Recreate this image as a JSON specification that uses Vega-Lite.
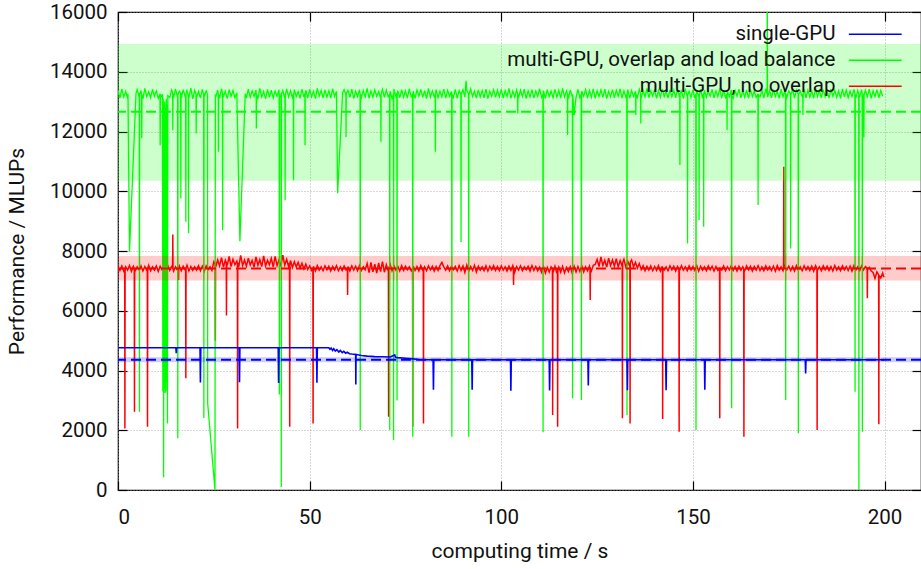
{
"$schema":"https://vega.github.io/schema/vega-lite/v6.json",
"width":803,"height":478,
"autosize":{"type":"none"},
"padding":{"left":118,"top":12,"right":0,"bottom":79},
"background":"white",
"config":{
 "font":"Roboto",
 "view":{"stroke":"black","strokeWidth":1.2},
 "axis":{"domain":false,"gridColor":"#999999","gridDash":[1,2],"gridWidth":0.8,"tickColor":"black","tickSize":-9,"tickWidth":1.2,"labelFontSize":20.5,"labelColor":"#111111","titleFontSize":21,"titleFontWeight":"normal","titleColor":"#111111","labelFont":"Roboto","titleFont":"Roboto"}
},
"datasets":{
"stats":[
 {"series":"single-GPU","mean":4360,"lo":4280,"hi":4440},
 {"series":"multi-GPU, overlap and load balance","mean":12657,"lo":10350,"hi":14930},
 {"series":"multi-GPU, no overlap","mean":7417,"lo":7016,"hi":7832}
],
"single":[
 {"t":0,"v":4760},{"t":15.1,"v":4760},{"t":15.2,"v":4580},{"t":15.3,"v":4760},
 {"t":21.4,"v":4760},{"t":21.5,"v":3600},{"t":21.6,"v":4760},
 {"t":31.6,"v":4760},{"t":31.7,"v":3610},{"t":31.8,"v":4760},
 {"t":41.8,"v":4760},{"t":41.9,"v":3580},{"t":42,"v":4760},
 {"t":51.8,"v":4760},{"t":51.9,"v":3590},{"t":52,"v":4760},
 {"t":55,"v":4760},{"t":55.3,"v":4710},{"t":55.6,"v":4750},{"t":56,"v":4670},{"t":56.3,"v":4730},{"t":56.7,"v":4650},{"t":57.1,"v":4700},{"t":57.6,"v":4620},{"t":58,"v":4670},{"t":58.5,"v":4600},{"t":58.9,"v":4640},{"t":59.4,"v":4580},{"t":59.8,"v":4610},{"t":60.4,"v":4560},{"t":61,"v":4550},{"t":62,"v":4540},{"t":62.05,"v":3530},{"t":62.1,"v":4535},
 {"t":63.5,"v":4500},{"t":65,"v":4480},{"t":67,"v":4465},{"t":69,"v":4460},{"t":71,"v":4450},{"t":72.2,"v":4520},{"t":72.4,"v":4440},{"t":73,"v":4430},{"t":75,"v":4410},{"t":77,"v":4390},{"t":78.5,"v":4370},{"t":80,"v":4360},
 {"t":82.2,"v":4360},{"t":82.3,"v":3360},{"t":82.4,"v":4360},
 {"t":92.3,"v":4360},{"t":92.4,"v":3360},{"t":92.5,"v":4360},
 {"t":102.4,"v":4360},{"t":102.5,"v":3320},{"t":102.6,"v":4360},
 {"t":112.5,"v":4360},{"t":112.6,"v":3330},{"t":112.7,"v":4360},
 {"t":122.6,"v":4360},{"t":122.7,"v":3500},{"t":122.8,"v":4360},
 {"t":132.8,"v":4360},{"t":132.9,"v":3340},{"t":133,"v":4360},
 {"t":142.9,"v":4360},{"t":143,"v":3340},{"t":143.1,"v":4360},
 {"t":153,"v":4360},{"t":153.1,"v":3360},{"t":153.2,"v":4360},
 {"t":179.3,"v":4360},{"t":179.4,"v":3900},{"t":179.5,"v":4360},
 {"t":200,"v":4360}
],
"multi":[
 {"t":0,"v":13380},{"t":0.5,"v":13120},{"t":1,"v":13420},{"t":1.5,"v":13160},{"t":2,"v":13350},{"t":2.5,"v":13100},{"t":2.6,"v":13260},{"t":3,"v":7975},{"t":4.7,"v":13280},
 {"t":5,"v":13400},{"t":5.5,"v":13150},{"t":5.55,"v":13300},{"t":5.6,"v":2620},{"t":5.65,"v":13250},{"t":6,"v":13370},{"t":6.15,"v":13220},{"t":6.2,"v":11770},{"t":6.25,"v":13230},{"t":6.5,"v":13090},{"t":7,"v":13440},{"t":7.5,"v":13170},{"t":8,"v":13330},{"t":8.5,"v":13130},{"t":9,"v":13410},{"t":9.5,"v":13180},
 {"t":10,"v":13360},{"t":10.5,"v":13110},{"t":10.95,"v":13250},{"t":11,"v":11540},{"t":11.05,"v":13230},{"t":11.5,"v":13150},{"t":11.6,"v":13250},{"t":11.7,"v":3300},{"t":11.8,"v":13100},{"t":11.9,"v":430},{"t":12,"v":12900},{"t":12.1,"v":3400},{"t":12.2,"v":13000},{"t":12.3,"v":3250},{"t":12.4,"v":12800},{"t":12.5,"v":3300},{"t":12.6,"v":13100},{"t":12.7,"v":3600},{"t":12.8,"v":12900},{"t":12.9,"v":2230},{"t":13,"v":13200},{"t":13.5,"v":13140},{"t":14,"v":13390},{"t":14.25,"v":13300},{"t":14.3,"v":12040},{"t":14.35,"v":13280},{"t":14.5,"v":13120},
 {"t":15,"v":13430},{"t":15.5,"v":13160},{"t":15.55,"v":13260},{"t":15.6,"v":1730},{"t":15.65,"v":13240},{"t":16,"v":13350},{"t":16.35,"v":13280},{"t":16.4,"v":9760},{"t":16.45,"v":13300},{"t":16.5,"v":13100},{"t":17,"v":13400},{"t":17.5,"v":13180},{"t":17.65,"v":13250},{"t":17.7,"v":8980},{"t":17.75,"v":13270},{"t":18,"v":13370},{"t":18.35,"v":13200},{"t":18.4,"v":8590},{"t":18.45,"v":13240},{"t":18.5,"v":13130},{"t":19,"v":13450},{"t":19.5,"v":13090},
 {"t":20,"v":13380},{"t":20.35,"v":13250},{"t":20.4,"v":11930},{"t":20.45,"v":13220},{"t":20.5,"v":13150},{"t":21,"v":13340},{"t":21.5,"v":13120},{"t":22,"v":13410},{"t":22.35,"v":13240},{"t":22.4,"v":2410},{"t":22.45,"v":13280},{"t":22.5,"v":13170},{"t":23,"v":13360},{"t":23.35,"v":13240},{"t":23.4,"v":2900},{"t":25.3,"v":0},{"t":25.4,"v":13250},{"t":25.5,"v":13140},{"t":26,"v":13390},{"t":26.15,"v":13260},{"t":26.2,"v":11320},{"t":26.25,"v":13240},{"t":26.5,"v":13110},{"t":27,"v":13430},{"t":27.25,"v":13300},{"t":27.3,"v":8700},{"t":27.35,"v":13270},{"t":27.5,"v":13160},{"t":28,"v":13350},{"t":28.5,"v":13100},{"t":29,"v":13400},{"t":29.5,"v":13180},
 {"t":30,"v":13370},{"t":30.5,"v":13130},{"t":31,"v":13300},{"t":31.8,"v":8330},{"t":33.2,"v":13270},{"t":33.5,"v":13120},{"t":34,"v":13420},{"t":34.5,"v":13150},
 {"t":35,"v":13360},{"t":35.5,"v":13170},{"t":36,"v":13390},{"t":36.05,"v":13260},{"t":36.1,"v":12100},{"t":36.15,"v":13230},{"t":36.5,"v":13110},{"t":37,"v":13440},{"t":37.5,"v":13160},{"t":38,"v":13340},{"t":38.5,"v":13090},{"t":39,"v":13410},{"t":39.5,"v":13140},
 {"t":40,"v":13380},{"t":40.5,"v":13120},{"t":41,"v":13350},{"t":41.5,"v":13180},{"t":42,"v":13400},{"t":42.05,"v":13250},{"t":42.1,"v":3200},{"t":42.15,"v":13220},{"t":42.5,"v":13150},{"t":42.55,"v":13280},{"t":42.6,"v":100},{"t":42.65,"v":13240},{"t":43,"v":13370},{"t":43.5,"v":13100},{"t":43.55,"v":13250},{"t":43.6,"v":9700},{"t":43.65,"v":13210},{"t":44,"v":13430},{"t":44.5,"v":13160},
 {"t":45,"v":13360},{"t":45.5,"v":13130},{"t":45.75,"v":13260},{"t":45.8,"v":10370},{"t":45.85,"v":13240},{"t":46,"v":13400},{"t":46.5,"v":13170},{"t":47,"v":13340},{"t":47.5,"v":13110},{"t":48,"v":13420},{"t":48.5,"v":13150},{"t":48.75,"v":13270},{"t":48.8,"v":11540},{"t":48.85,"v":13250},{"t":49,"v":13380},{"t":49.5,"v":13120},
 {"t":50,"v":13410},{"t":50.5,"v":13160},{"t":51,"v":13350},{"t":51.5,"v":13100},{"t":52,"v":13440},{"t":52.5,"v":13180},{"t":53,"v":13370},{"t":53.5,"v":13130},{"t":54,"v":13390},{"t":54.5,"v":13150},
 {"t":55,"v":13360},{"t":55.5,"v":13120},{"t":56,"v":13430},{"t":56.5,"v":13170},{"t":57,"v":13350},{"t":57.3,"v":9930},{"t":58.6,"v":13290},{"t":59,"v":13400},{"t":59.45,"v":13240},{"t":59.5,"v":11820},{"t":59.55,"v":13260},
 {"t":60,"v":13380},{"t":60.5,"v":13140},{"t":61,"v":13420},{"t":61.5,"v":13100},{"t":62,"v":13350},{"t":62.5,"v":13170},{"t":63,"v":13400},{"t":63.15,"v":13270},{"t":63.2,"v":2010},{"t":63.25,"v":13240},{"t":63.5,"v":13130},{"t":64,"v":13370},{"t":64.5,"v":13160},
 {"t":65,"v":13440},{"t":65.5,"v":13110},{"t":66,"v":13360},{"t":66.5,"v":13150},{"t":67,"v":13390},{"t":67.5,"v":13180},{"t":68,"v":13340},{"t":68.5,"v":13120},{"t":68.55,"v":13230},{"t":68.6,"v":11660},{"t":68.65,"v":13250},{"t":69,"v":13410},{"t":69.5,"v":13140},
 {"t":70,"v":13380},{"t":70.5,"v":13160},{"t":70.85,"v":13240},{"t":70.9,"v":2010},{"t":70.95,"v":13200},{"t":71,"v":13350},{"t":71.5,"v":13100},{"t":71.85,"v":13260},{"t":71.9,"v":1670},{"t":71.95,"v":13230},{"t":72,"v":13420},{"t":72.5,"v":13170},{"t":72.75,"v":13280},{"t":72.8,"v":3000},{"t":72.85,"v":13240},{"t":73,"v":13370},{"t":73.5,"v":13130},{"t":74,"v":13400},{"t":74.5,"v":13150},
 {"t":75,"v":13360},{"t":75.5,"v":13120},{"t":76,"v":13430},{"t":76.5,"v":13160},{"t":76.85,"v":13240},{"t":76.9,"v":1780},{"t":76.95,"v":13220},{"t":77,"v":13350},{"t":77.5,"v":13110},{"t":78,"v":13390},{"t":78.5,"v":13180},{"t":79,"v":13410},{"t":79.5,"v":13140},
 {"t":80,"v":13370},{"t":80.5,"v":13100},{"t":81,"v":13440},{"t":81.5,"v":13150},{"t":82,"v":13360},{"t":82.5,"v":13170},{"t":82.75,"v":13250},{"t":82.8,"v":11320},{"t":82.85,"v":13270},{"t":83,"v":13400},{"t":83.5,"v":13130},{"t":84,"v":13350},{"t":84.5,"v":13160},
 {"t":85,"v":13420},{"t":85.5,"v":13120},{"t":86,"v":13380},{"t":86.5,"v":13180},{"t":87,"v":13340},{"t":87.05,"v":13230},{"t":87.1,"v":1780},{"t":87.15,"v":13260},{"t":87.5,"v":13140},{"t":88,"v":13410},{"t":88.5,"v":13110},{"t":89,"v":13370},{"t":89.45,"v":13250},{"t":89.5,"v":8300},{"t":89.55,"v":13240},
 {"t":90,"v":13400},{"t":90.5,"v":13150},{"t":90.8,"v":13700},{"t":91,"v":13360},{"t":91.45,"v":13260},{"t":91.5,"v":1780},{"t":91.55,"v":13220},{"t":92,"v":13430},{"t":92.5,"v":13170},{"t":93,"v":13350},{"t":93.5,"v":13120},{"t":94,"v":13390},{"t":94.5,"v":13160},
 {"t":95,"v":13370},{"t":95.5,"v":13130},{"t":96,"v":13420},{"t":96.5,"v":13100},{"t":97,"v":13350},{"t":97.5,"v":13180},{"t":98,"v":13400},{"t":98.5,"v":13140},{"t":99,"v":13380},{"t":99.5,"v":13160},
 {"t":100,"v":13410},{"t":100.5,"v":13120},{"t":101,"v":13360},{"t":101.5,"v":13170},{"t":102,"v":13440},{"t":102.5,"v":13110},{"t":103,"v":13350},{"t":103.5,"v":13150},{"t":104,"v":13390},{"t":104.25,"v":13270},{"t":104.3,"v":12600},{"t":104.35,"v":13240},{"t":104.5,"v":13130},
 {"t":105,"v":13380},{"t":105.5,"v":13170},{"t":106,"v":13420},{"t":106.5,"v":13100},{"t":107,"v":13360},{"t":107.5,"v":13160},{"t":108,"v":13400},{"t":108.5,"v":13120},{"t":109,"v":13350},{"t":109.5,"v":13180},
 {"t":110,"v":13430},{"t":110.5,"v":13140},{"t":110.85,"v":13250},{"t":110.9,"v":1930},{"t":110.95,"v":13220},{"t":111,"v":13370},{"t":111.5,"v":13110},{"t":112,"v":13400},{"t":112.5,"v":13170},{"t":113,"v":13350},{"t":113.5,"v":13130},{"t":114,"v":13410},{"t":114.5,"v":13150},
 {"t":115,"v":13380},{"t":115.5,"v":13120},{"t":116,"v":13440},{"t":116.5,"v":13160},{"t":117,"v":13360},{"t":117.25,"v":13260},{"t":117.3,"v":11880},{"t":117.35,"v":13240},{"t":117.5,"v":13100},{"t":118,"v":13390},{"t":118.5,"v":13170},{"t":118.55,"v":13250},{"t":118.6,"v":3070},{"t":118.65,"v":13230},{"t":119,"v":12550},{"t":119.5,"v":13140},
 {"t":120,"v":13410},{"t":120.5,"v":13130},{"t":120.85,"v":13250},{"t":120.9,"v":3010},{"t":120.95,"v":13270},{"t":121,"v":13350},{"t":121.5,"v":13180},{"t":122,"v":13400},{"t":122.5,"v":13120},{"t":123,"v":13370},{"t":123.5,"v":13150},{"t":124,"v":13430},{"t":124.5,"v":13110},
 {"t":125,"v":13360},{"t":125.5,"v":13170},{"t":126,"v":13390},{"t":126.5,"v":13140},{"t":127,"v":13420},{"t":127.5,"v":13100},{"t":128,"v":13350},{"t":128.5,"v":13160},{"t":129,"v":13400},{"t":129.5,"v":13130},
 {"t":130,"v":13380},{"t":130.5,"v":13180},{"t":131,"v":13430},{"t":131.5,"v":13120},{"t":132,"v":13360},{"t":132.5,"v":13150},{"t":132.75,"v":13240},{"t":132.8,"v":2510},{"t":132.85,"v":13260},{"t":133,"v":13400},{"t":133.5,"v":13110},{"t":134,"v":13370},{"t":134.5,"v":13170},
 {"t":135,"v":13350},{"t":135.05,"v":13230},{"t":135.1,"v":12550},{"t":135.15,"v":13260},{"t":135.5,"v":13140},{"t":136,"v":13410},{"t":136.35,"v":13270},{"t":136.4,"v":12270},{"t":136.45,"v":13250},{"t":136.5,"v":13120},{"t":137,"v":13380},{"t":137.5,"v":13160},{"t":138,"v":13440},{"t":138.5,"v":13130},{"t":139,"v":13360},{"t":139.5,"v":13180},
 {"t":140,"v":13400},{"t":140.5,"v":13110},{"t":141,"v":13370},{"t":141.5,"v":13150},{"t":142,"v":13420},{"t":142.5,"v":13170},{"t":143,"v":13350},{"t":143.5,"v":13120},{"t":144,"v":13390},{"t":144.5,"v":13160},
 {"t":145,"v":13380},{"t":145.5,"v":13130},{"t":146,"v":13410},{"t":146.5,"v":13150},{"t":146.55,"v":13240},{"t":146.6,"v":10880},{"t":146.65,"v":13270},{"t":147,"v":13360},{"t":147.5,"v":13100},{"t":148,"v":13430},{"t":148.5,"v":13170},{"t":148.55,"v":13260},{"t":148.6,"v":8250},{"t":148.65,"v":13230},{"t":149,"v":13350},{"t":149.5,"v":13140},
 {"t":150,"v":13400},{"t":150.5,"v":13120},{"t":150.75,"v":13250},{"t":150.8,"v":2010},{"t":150.85,"v":13240},{"t":151,"v":13370},{"t":151.5,"v":13160},{"t":151.55,"v":13260},{"t":151.6,"v":9040},{"t":151.65,"v":13230},{"t":152,"v":13420},{"t":152.5,"v":13110},{"t":152.75,"v":13270},{"t":152.8,"v":8810},{"t":152.85,"v":13250},{"t":153,"v":13380},{"t":153.5,"v":13150},{"t":154,"v":13350},{"t":154.5,"v":13180},
 {"t":155,"v":13410},{"t":155.5,"v":13130},{"t":156,"v":13360},{"t":156.5,"v":13170},{"t":157,"v":13440},{"t":157.5,"v":13120},{"t":158,"v":13380},{"t":158.5,"v":13140},{"t":158.85,"v":13240},{"t":158.9,"v":12040},{"t":158.95,"v":13250},{"t":159,"v":13350},{"t":159.5,"v":13160},
 {"t":160,"v":13400},{"t":160.05,"v":13260},{"t":160.1,"v":2740},{"t":160.15,"v":13230},{"t":160.5,"v":13110},{"t":161,"v":13370},{"t":161.5,"v":13180},{"t":162,"v":13420},{"t":162.5,"v":13130},{"t":163,"v":13360},{"t":163.5,"v":13150},{"t":164,"v":13390},{"t":164.5,"v":13120},
 {"t":165,"v":13410},{"t":165.5,"v":13170},{"t":166,"v":13350},{"t":166.5,"v":13140},{"t":166.95,"v":13250},{"t":167,"v":9540},{"t":167.05,"v":13240},{"t":167.5,"v":13160},{"t":168,"v":13380},{"t":168.5,"v":13120},{"t":169,"v":13430},{"t":169.35,"v":13260},{"t":169.4,"v":17500},{"t":169.45,"v":13240},{"t":169.5,"v":13150},
 {"t":170,"v":13370},{"t":170.5,"v":13130},{"t":171,"v":13400},{"t":171.5,"v":13170},{"t":172,"v":13350},{"t":172.5,"v":13110},{"t":173,"v":13420},{"t":173.5,"v":13160},{"t":174,"v":13380},{"t":174.15,"v":13240},{"t":174.2,"v":3010},{"t":174.25,"v":13260},{"t":174.5,"v":13140},
 {"t":175,"v":13360},{"t":175.45,"v":13250},{"t":175.5,"v":8080},{"t":175.55,"v":13230},{"t":176,"v":13410},{"t":176.5,"v":13120},{"t":177,"v":13390},{"t":177.45,"v":13260},{"t":177.5,"v":1900},{"t":177.55,"v":13240},{"t":178,"v":13350},{"t":178.5,"v":13170},{"t":178.65,"v":13250},{"t":178.7,"v":12550},{"t":178.75,"v":13260},{"t":179,"v":13420},{"t":179.5,"v":13130},
 {"t":180,"v":13380},{"t":180.5,"v":13150},{"t":181,"v":13360},{"t":181.5,"v":13110},{"t":182,"v":13440},{"t":182.5,"v":13170},{"t":183,"v":13370},{"t":183.5,"v":13130},{"t":184,"v":13400},{"t":184.5,"v":13160},
 {"t":185,"v":13350},{"t":185.5,"v":13120},{"t":186,"v":13410},{"t":186.5,"v":13180},{"t":187,"v":13380},{"t":187.5,"v":13140},{"t":188,"v":13360},{"t":188.5,"v":13110},{"t":189,"v":13430},{"t":189.5,"v":13160},
 {"t":190,"v":13390},{"t":190.5,"v":13130},{"t":191,"v":13350},{"t":191.5,"v":13170},{"t":192,"v":13410},{"t":192.25,"v":13260},{"t":192.3,"v":3290},{"t":192.35,"v":13240},{"t":192.5,"v":13120},{"t":193,"v":13370},{"t":193.25,"v":13250},{"t":193.3,"v":0},{"t":193.35,"v":13230},{"t":193.5,"v":13150},{"t":194,"v":13400},{"t":194.15,"v":13260},{"t":194.2,"v":1950},{"t":194.25,"v":13230},{"t":194.5,"v":13140},{"t":194.55,"v":13250},{"t":194.6,"v":11800},{"t":194.65,"v":13240},
 {"t":195,"v":13380},{"t":195.5,"v":13160},{"t":196,"v":13420},{"t":196.5,"v":13110},{"t":197,"v":13360},{"t":197.5,"v":13170},{"t":198,"v":13400},{"t":198.5,"v":13130},{"t":199,"v":13370},{"t":199.5,"v":13180}
],
"noov":[
 {"t":0,"v":7480},{"t":0.5,"v":7350},{"t":1,"v":7500},{"t":1.5,"v":7330},{"t":1.75,"v":7400},{"t":1.8,"v":2060},{"t":1.85,"v":7420},{"t":2,"v":7470},{"t":2.5,"v":7360},{"t":3,"v":7510},{"t":3.5,"v":7320},{"t":4,"v":7490},{"t":4.25,"v":7410},{"t":4.3,"v":2620},{"t":4.35,"v":7390},{"t":4.5,"v":7340},
 {"t":5,"v":7470},{"t":5.5,"v":7370},{"t":6,"v":7500},{"t":6.5,"v":7330},{"t":7,"v":7480},{"t":7.5,"v":7350},{"t":7.65,"v":7400},{"t":7.7,"v":2120},{"t":7.75,"v":7420},{"t":8,"v":7520},{"t":8.5,"v":7340},{"t":9,"v":7470},{"t":9.5,"v":7360},
 {"t":10,"v":7500},{"t":10.5,"v":7320},{"t":11,"v":7490},{"t":11.5,"v":7370},{"t":12,"v":7460},{"t":12.5,"v":7340},{"t":13,"v":7510},{"t":13.5,"v":7350},{"t":14,"v":7480},{"t":14.25,"v":7420},{"t":14.3,"v":8550},{"t":14.35,"v":7400},{"t":14.5,"v":7330},
 {"t":15,"v":7470},{"t":15.5,"v":7360},{"t":15.75,"v":7400},{"t":15.8,"v":7030},{"t":15.85,"v":7420},{"t":16,"v":7500},{"t":16.5,"v":7340},{"t":17,"v":7490},{"t":17.5,"v":7370},{"t":17.65,"v":7430},{"t":17.7,"v":3740},{"t":17.75,"v":7410},{"t":18,"v":7520},{"t":18.5,"v":7330},{"t":19,"v":7480},{"t":19.5,"v":7350},
 {"t":20,"v":7470},{"t":20.5,"v":7360},{"t":21,"v":7510},{"t":21.5,"v":7340},{"t":22,"v":7490},{"t":22.5,"v":7320},{"t":23,"v":7500},{"t":23.5,"v":7370},{"t":24,"v":7470},{"t":24.5,"v":7350},
 {"t":25,"v":7640},{"t":25.35,"v":7560},{"t":25.4,"v":5000},{"t":25.45,"v":7540},{"t":25.5,"v":7470},{"t":26,"v":7700},{"t":26.5,"v":7500},{"t":27,"v":7780},{"t":27.5,"v":7460},{"t":28,"v":7690},{"t":28.25,"v":7600},{"t":28.3,"v":5840},{"t":28.35,"v":7620},{"t":28.5,"v":7520},{"t":29,"v":7820},{"t":29.5,"v":7480},
 {"t":30,"v":7720},{"t":30.5,"v":7540},{"t":31,"v":7660},{"t":31.15,"v":7580},{"t":31.2,"v":2060},{"t":31.25,"v":7600},{"t":31.5,"v":7470},{"t":32,"v":7850},{"t":32.5,"v":7510},{"t":33,"v":7700},{"t":33.5,"v":7490},{"t":34,"v":7760},{"t":34.5,"v":7530},
 {"t":35,"v":7680},{"t":35.5,"v":7460},{"t":36,"v":7800},{"t":36.5,"v":7520},{"t":37,"v":7710},{"t":37.5,"v":7480},{"t":38,"v":7840},{"t":38.5,"v":7500},{"t":39,"v":7690},{"t":39.5,"v":7540},
 {"t":40,"v":7750},{"t":40.5,"v":7470},{"t":41,"v":7820},{"t":41.5,"v":7510},{"t":42,"v":7700},{"t":42.5,"v":7490},{"t":43,"v":7860},{"t":43.5,"v":7530},{"t":44,"v":7720},{"t":44.5,"v":7480},{"t":44.75,"v":7600},{"t":44.8,"v":2120},{"t":44.85,"v":7580},
 {"t":45,"v":7680},{"t":45.5,"v":7450},{"t":46,"v":7640},{"t":46.5,"v":7470},{"t":47,"v":7620},{"t":47.5,"v":7430},{"t":48,"v":7590},{"t":48.5,"v":7400},{"t":49,"v":7560},{"t":49.5,"v":7380},
 {"t":50,"v":7500},{"t":50.5,"v":7350},{"t":50.85,"v":7420},{"t":50.9,"v":2230},{"t":50.95,"v":7410},{"t":51,"v":7480},{"t":51.5,"v":7330},{"t":52,"v":7510},{"t":52.5,"v":7360},{"t":53,"v":7470},{"t":53.5,"v":7340},{"t":54,"v":7500},{"t":54.5,"v":7370},
 {"t":55,"v":7490},{"t":55.5,"v":7330},{"t":56,"v":7480},{"t":56.5,"v":7360},{"t":57,"v":7510},{"t":57.5,"v":7340},{"t":58,"v":7470},{"t":58.5,"v":7350},{"t":59,"v":7500},{"t":59.5,"v":7370},{"t":59.85,"v":7420},{"t":59.9,"v":6530},{"t":59.95,"v":7400},
 {"t":60,"v":7480},{"t":60.5,"v":7330},{"t":61,"v":7500},{"t":61.5,"v":7360},{"t":62,"v":7490},{"t":62.5,"v":7340},{"t":63,"v":7520},{"t":63.5,"v":7350},{"t":64,"v":7470},{"t":64.5,"v":7370},
 {"t":65,"v":7580},{"t":65.5,"v":7280},{"t":66,"v":7620},{"t":66.5,"v":7300},{"t":67,"v":7560},{"t":67.5,"v":7260},{"t":68,"v":7600},{"t":68.5,"v":7310},{"t":69,"v":7640},{"t":69.5,"v":7290},
 {"t":70,"v":7540},{"t":70.5,"v":7330},{"t":70.55,"v":7410},{"t":70.6,"v":2450},{"t":70.65,"v":7430},{"t":71,"v":7560},{"t":71.5,"v":7340},{"t":72,"v":7500},{"t":72.5,"v":7360},{"t":73,"v":7480},{"t":73.5,"v":7330},{"t":74,"v":7510},{"t":74.5,"v":7350},
 {"t":75,"v":7490},{"t":75.5,"v":7370},{"t":76,"v":7470},{"t":76.5,"v":7340},{"t":76.85,"v":7420},{"t":76.9,"v":2120},{"t":76.95,"v":7390},{"t":77,"v":7500},{"t":77.5,"v":7350},{"t":78,"v":7480},{"t":78.5,"v":7330},{"t":79,"v":7510},{"t":79.5,"v":7360},{"t":79.65,"v":7430},{"t":79.7,"v":2230},{"t":79.75,"v":7400},
 {"t":80,"v":7470},{"t":80.5,"v":7340},{"t":81,"v":7500},{"t":81.5,"v":7370},{"t":82,"v":7490},{"t":82.5,"v":7330},{"t":83,"v":7480},{"t":83.5,"v":7350},{"t":84,"v":7510},{"t":84.5,"v":7620},
 {"t":85,"v":7470},{"t":85.5,"v":7360},{"t":86,"v":7500},{"t":86.5,"v":7340},{"t":87,"v":7490},{"t":87.5,"v":7370},{"t":88,"v":7480},{"t":88.5,"v":7330},{"t":89,"v":7510},{"t":89.5,"v":7350},
 {"t":90,"v":7500},{"t":90.5,"v":7280},{"t":91,"v":7530},{"t":91.5,"v":7320},{"t":92,"v":7480},{"t":92.5,"v":7350},{"t":93,"v":7520},{"t":93.5,"v":7300},{"t":94,"v":7490},{"t":94.5,"v":7360},
 {"t":95,"v":7470},{"t":95.5,"v":7340},{"t":96,"v":7500},{"t":96.5,"v":7330},{"t":97,"v":7490},{"t":97.5,"v":7370},{"t":98,"v":7510},{"t":98.5,"v":7350},{"t":99,"v":7480},{"t":99.5,"v":7340},
 {"t":100,"v":7500},{"t":100.5,"v":7360},{"t":101,"v":7470},{"t":101.5,"v":7330},{"t":102,"v":7490},{"t":102.5,"v":7350},{"t":103,"v":7510},{"t":103.15,"v":7440},{"t":103.2,"v":6860},{"t":103.25,"v":7400},{"t":103.5,"v":7290},{"t":104,"v":7480},{"t":104.5,"v":7360},
 {"t":105,"v":7500},{"t":105.5,"v":7340},{"t":106,"v":7470},{"t":106.5,"v":7370},{"t":107,"v":7490},{"t":107.5,"v":7330},{"t":108,"v":7510},{"t":108.5,"v":7350},{"t":109,"v":7480},{"t":109.5,"v":7340},
 {"t":110,"v":7460},{"t":110.5,"v":7290},{"t":111,"v":7480},{"t":111.5,"v":7260},{"t":112,"v":7450},{"t":112.5,"v":7300},{"t":113,"v":7470},{"t":113.35,"v":7410},{"t":113.4,"v":2510},{"t":113.45,"v":7380},{"t":113.5,"v":7280},{"t":114,"v":7490},{"t":114.5,"v":7250},{"t":114.65,"v":7400},{"t":114.7,"v":2120},{"t":114.75,"v":7350},
 {"t":115,"v":7460},{"t":115.5,"v":7290},{"t":116,"v":7480},{"t":116.5,"v":7270},{"t":117,"v":7450},{"t":117.5,"v":7310},{"t":118,"v":7470},{"t":118.5,"v":7260},{"t":119,"v":7490},{"t":119.5,"v":7300},
 {"t":120,"v":7480},{"t":120.5,"v":7320},{"t":121,"v":7500},{"t":121.5,"v":7300},{"t":122,"v":7470},{"t":122.5,"v":7340},{"t":123,"v":7490},{"t":123.15,"v":7410},{"t":123.2,"v":6360},{"t":123.25,"v":7400},{"t":123.5,"v":7330},{"t":124,"v":7520},{"t":124.5,"v":7550},
 {"t":125,"v":7720},{"t":125.5,"v":7480},{"t":126,"v":7800},{"t":126.5,"v":7520},{"t":127,"v":7690},{"t":127.5,"v":7460},{"t":128,"v":7760},{"t":128.5,"v":7510},{"t":129,"v":7700},{"t":129.5,"v":7490},
 {"t":130,"v":7740},{"t":130.5,"v":7470},{"t":131,"v":7680},{"t":131.5,"v":7500},{"t":131.55,"v":7560},{"t":131.6,"v":2400},{"t":131.65,"v":7600},{"t":132,"v":7720},{"t":132.5,"v":7460},{"t":133,"v":7650},{"t":133.5,"v":7490},{"t":133.55,"v":7580},{"t":133.6,"v":2230},{"t":133.65,"v":7620},{"t":134,"v":7700},{"t":134.5,"v":7470},
 {"t":135,"v":7620},{"t":135.5,"v":7430},{"t":136,"v":7580},{"t":136.5,"v":7380},{"t":137,"v":7510},{"t":137.5,"v":7340},{"t":138,"v":7490},{"t":138.5,"v":7360},{"t":139,"v":7500},{"t":139.5,"v":7340},
 {"t":140,"v":7480},{"t":140.5,"v":7350},{"t":141,"v":7510},{"t":141.5,"v":7330},{"t":142,"v":7490},{"t":142.05,"v":7420},{"t":142.1,"v":2380},{"t":142.15,"v":7400},{"t":142.5,"v":7360},{"t":143,"v":7470},{"t":143.5,"v":7340},{"t":144,"v":7500},{"t":144.5,"v":7370},
 {"t":145,"v":7490},{"t":145.5,"v":7330},{"t":146,"v":7480},{"t":146.35,"v":7400},{"t":146.4,"v":1950},{"t":146.45,"v":7430},{"t":146.5,"v":7350},{"t":147,"v":7510},{"t":147.5,"v":7360},{"t":148,"v":7470},{"t":148.5,"v":7340},{"t":149,"v":7500},{"t":149.5,"v":7370},
 {"t":150,"v":7480},{"t":150.5,"v":7350},{"t":151,"v":7510},{"t":151.5,"v":7330},{"t":152,"v":7490},{"t":152.5,"v":7360},{"t":153,"v":7470},{"t":153.5,"v":7340},{"t":154,"v":7500},{"t":154.5,"v":7370},
 {"t":155,"v":7490},{"t":155.5,"v":7330},{"t":156,"v":7480},{"t":156.5,"v":7350},{"t":156.95,"v":7420},{"t":157,"v":2400},{"t":157.05,"v":7400},{"t":157.5,"v":7360},{"t":158,"v":7500},{"t":158.5,"v":7340},{"t":159,"v":7470},{"t":159.5,"v":7370},
 {"t":160,"v":7510},{"t":160.5,"v":7350},{"t":161,"v":7480},{"t":161.5,"v":7330},{"t":162,"v":7490},{"t":162.5,"v":7360},{"t":163,"v":7470},{"t":163.25,"v":7410},{"t":163.3,"v":1780},{"t":163.35,"v":7400},{"t":163.5,"v":7340},{"t":164,"v":7500},{"t":164.5,"v":7370},
 {"t":165,"v":7490},{"t":165.5,"v":7330},{"t":166,"v":7480},{"t":166.5,"v":7360},{"t":167,"v":7510},{"t":167.5,"v":7350},{"t":168,"v":7470},{"t":168.5,"v":7340},{"t":169,"v":7500},{"t":169.5,"v":7370},
 {"t":170,"v":7480},{"t":170.5,"v":7350},{"t":171,"v":7490},{"t":171.5,"v":7330},{"t":172,"v":7510},{"t":172.5,"v":7360},{"t":173,"v":7470},{"t":173.5,"v":7340},{"t":173.65,"v":7410},{"t":173.7,"v":10820},{"t":173.75,"v":7430},{"t":174,"v":7500},{"t":174.5,"v":7370},
 {"t":175,"v":7490},{"t":175.5,"v":7350},{"t":176,"v":7480},{"t":176.5,"v":7330},{"t":177,"v":7510},{"t":177.5,"v":7360},{"t":178,"v":7470},{"t":178.5,"v":7340},{"t":179,"v":7500},{"t":179.5,"v":7370},
 {"t":180,"v":7480},{"t":180.5,"v":7350},{"t":181,"v":7490},{"t":181.5,"v":7330},{"t":182,"v":7510},{"t":182.35,"v":7420},{"t":182.4,"v":2010},{"t":182.45,"v":7400},{"t":182.5,"v":7360},{"t":183,"v":7470},{"t":183.5,"v":7340},{"t":184,"v":7500},{"t":184.5,"v":7370},
 {"t":185,"v":7490},{"t":185.5,"v":7350},{"t":186,"v":7480},{"t":186.5,"v":7330},{"t":187,"v":7510},{"t":187.5,"v":7360},{"t":188,"v":7470},{"t":188.5,"v":7340},{"t":189,"v":7500},{"t":189.5,"v":7370},
 {"t":190,"v":7480},{"t":190.5,"v":7350},{"t":191,"v":7490},{"t":191.5,"v":7330},{"t":192,"v":7510},{"t":192.5,"v":7360},{"t":193,"v":7470},{"t":193.5,"v":7340},{"t":194,"v":7500},{"t":194.5,"v":7370},
 {"t":195,"v":7480},{"t":195.45,"v":7420},{"t":195.5,"v":6420},{"t":195.55,"v":7380},{"t":196,"v":7450},{"t":196.5,"v":7330},{"t":197,"v":7280},{"t":197.5,"v":7080},{"t":198,"v":7300},{"t":198.45,"v":7200},{"t":198.5,"v":2200},{"t":198.55,"v":7180},{"t":199,"v":7100},{"t":199.5,"v":7260},{"t":199.8,"v":7120}
]
},
"resolve":{"axis":{"x":"independent","y":"independent"}},
"layer":[
 {"data":{"name":"noov"},"mark":{"type":"line","strokeWidth":1.5,"clip":true},
  "encoding":{
   "x":{"field":"t","type":"quantitative","scale":{"domain":[0,209.5],"nice":false,"zero":false},"axis":{"values":[0,50,100,150,200],"title":"computing time / s","labelPadding":26,"titlePadding":13,"grid":true}},
   "y":{"field":"v","type":"quantitative","scale":{"domain":[0,16000],"nice":false},"axis":{"values":[0,2000,4000,6000,8000,10000,12000,14000,16000],"format":"d","title":"Performance / MLUPs","labelPadding":20,"titlePadding":22,"grid":true}},
   "color":{"datum":"multi-GPU, no overlap","type":"nominal",
    "scale":{"domain":["single-GPU","multi-GPU, overlap and load balance","multi-GPU, no overlap"],"range":["#0000ff","#00ff00","#ff0000"]},
    "legend":{"title":null,"orient":"none","legendX":747,"legendY":12,"symbolType":"M-4.8,0H4.8","symbolSize":121,"symbolStrokeWidth":1.5,"symbolOpacity":1,"labelAlign":"right","labelOffset":-50,"labelFontSize":20.5,"labelColor":"#111111","labelLimit":500,"rowPadding":5}}
  }},
 {"data":{"name":"multi"},"mark":{"type":"line","strokeWidth":1.3,"clip":true},
  "encoding":{
   "x":{"field":"t","type":"quantitative","axis":null},
   "y":{"field":"v","type":"quantitative","axis":null},
   "color":{"datum":"multi-GPU, overlap and load balance","type":"nominal"}
  }},
 {"data":{"name":"single"},"mark":{"type":"line","strokeWidth":1.6,"clip":true},
  "encoding":{
   "x":{"field":"t","type":"quantitative","axis":{"orient":"top","labels":false,"grid":false,"title":null,"values":[0,50,100,150,200]}},
   "y":{"field":"v","type":"quantitative","axis":{"orient":"right","labels":false,"grid":false,"title":null,"values":[0,2000,4000,6000,8000,10000,12000,14000,16000]}},
   "color":{"datum":"single-GPU","type":"nominal"}
  }},
 {"data":{"name":"stats"},"mark":{"type":"rect","opacity":0.2},
  "encoding":{
   "y":{"field":"lo","type":"quantitative","axis":null},
   "y2":{"field":"hi"},
   "color":{"field":"series","type":"nominal","legend":null}
  }},
 {"data":{"name":"stats"},"mark":{"type":"rule","strokeDash":[10,5],"strokeWidth":2},
  "encoding":{
   "y":{"field":"mean","type":"quantitative","axis":null},
   "color":{"field":"series","type":"nominal","legend":null}
  }}
]
}
